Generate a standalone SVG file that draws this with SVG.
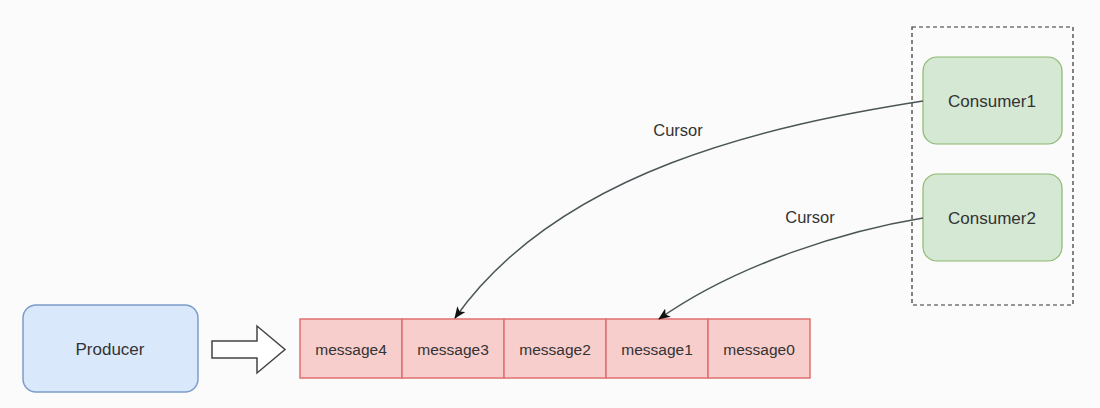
<svg xmlns="http://www.w3.org/2000/svg" width="1100" height="408" viewBox="0 0 1100 408">
<defs>
<style>
text{font-family:"Liberation Sans",Arial,sans-serif;fill:#333;text-anchor:middle;dominant-baseline:central}
.prod{fill:#dae8fc;stroke:#7c9cc9;stroke-width:1.5}
.msg{fill:#f8cecc;stroke:#e07070;stroke-width:1.5}
.cons{fill:#d5e8d4;stroke:#8bb86e;stroke-width:1.2}
.edge{fill:none;stroke:#4a5555;stroke-width:1.5}
</style>
<marker id="ah" viewBox="0 0 12 10" refX="11" refY="5" markerWidth="12" markerHeight="10" markerUnits="userSpaceOnUse" orient="auto">
<path d="M0,0 L12,5 L0,10 L3,5 Z" fill="#111"/>
</marker>
</defs>
<rect width="1100" height="408" fill="#fbfbfb"/>
<g id="producer">
<rect class="prod" x="23" y="305" width="175" height="87" rx="13"/>
<text x="110" y="349" font-size="17">Producer</text>
</g>
<g id="push-arrow">
<polygon points="212,341 257,341 257,326 285,349.5 257,373 257,358 212,358" fill="#fff" stroke="#444" stroke-width="1.5"/>
</g>
<g id="queue">
<rect class="msg" x="300" y="319" width="102" height="59"/>
<rect class="msg" x="402" y="319" width="102" height="59"/>
<rect class="msg" x="504" y="319" width="102" height="59"/>
<rect class="msg" x="606" y="319" width="102" height="59"/>
<rect class="msg" x="708" y="319" width="102" height="59"/>
<text x="351" y="349" font-size="15.5">message4</text>
<text x="453" y="349" font-size="15.5">message3</text>
<text x="555" y="349" font-size="15.5">message2</text>
<text x="657" y="349" font-size="15.5">message1</text>
<text x="759" y="349" font-size="15.5">message0</text>
</g>
<g id="consumer-group">
<rect x="912" y="27" width="161" height="278" fill="none" stroke="#333" stroke-width="1.2" stroke-dasharray="4,3"/>
</g>
<g id="consumer1">
<rect class="cons" x="923" y="57" width="139" height="87" rx="14"/>
<text x="992" y="101" font-size="17">Consumer1</text>
</g>
<g id="consumer2">
<rect class="cons" x="923" y="174" width="139" height="87" rx="14"/>
<text x="992" y="218" font-size="17">Consumer2</text>
</g>
<g id="connectors">
<path class="edge" d="M923,101 C770,125 560,170 455,318" marker-end="url(#ah)"/>
<path class="edge" d="M923,218 C850,230 740,262 659,319" marker-end="url(#ah)"/>
<text x="678" y="130" font-size="16.5">Cursor</text>
<text x="810" y="217" font-size="16.5">Cursor</text>
</g>
</svg>
